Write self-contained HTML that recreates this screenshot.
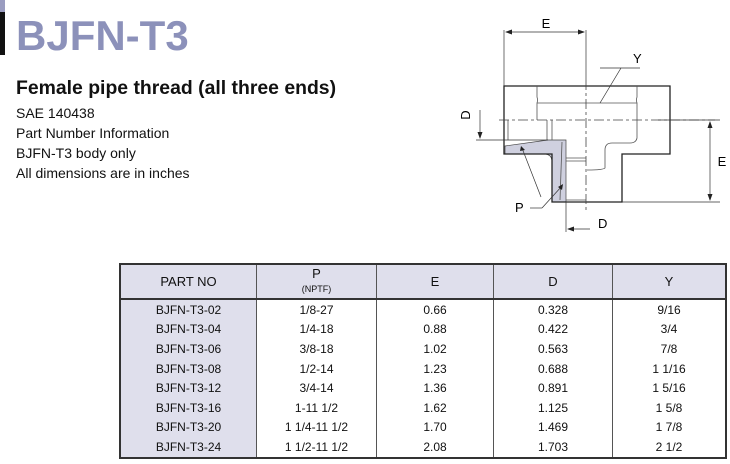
<!DOCTYPE html>
<html><head><meta charset="utf-8"><style>
body{margin:0;width:730px;height:464px;background:#fff;position:relative;overflow:hidden;font-family:"Liberation Sans",Arial,sans-serif;color:#111}
.bar{position:absolute;left:0;top:12px;width:5px;height:43px;background:#111}
.bar2{position:absolute;left:0;top:0;width:5px;height:12px;background:#9a9cc0}
h1{position:absolute;left:16px;top:11px;margin:0;font-size:42px;font-weight:bold;color:#8c91ba;line-height:50px}
h2{position:absolute;left:16px;top:77px;margin:0;font-size:19.4px;font-weight:bold;line-height:22px}
.l{position:absolute;left:16px;font-size:14px;line-height:16px}
table{position:absolute;left:119px;top:263px;width:608px;border-collapse:collapse;font-size:12px;border:2px solid #333}
td{border-left:1px solid #555;text-align:center;height:19.6px;padding:0}
tr.h td{background:#dfdfec;height:33px;font-size:13px;border-bottom:2px solid #333;line-height:14px}
td.p{background:#dfdfec}
</style></head><body>
<div class="bar2"></div><div class="bar"></div>
<h1>BJFN-T3</h1>
<h2>Female pipe thread (all three ends)</h2>
<div class="l" style="top:105px">SAE 140438</div>
<div class="l" style="top:125px">Part Number Information</div>
<div class="l" style="top:145px">BJFN-T3 body only</div>
<div class="l" style="top:165px">All dimensions are in inches</div>
<svg style="position:absolute;left:0;top:0" width="730" height="464" font-family="Liberation Sans, Arial, sans-serif" font-size="13">
<path d="M505 146 L548 140 H566 V202 H552 V162 Q552 154 544 154 H505 Z" fill="#cfd0df" stroke="#444" stroke-width="0.7"/>
<g fill="none" stroke="#222" stroke-width="1.3">
<path d="M504 86 H670 V154 H622 V202 H552 V154 H504 Z"/>
</g>
<g fill="none" stroke="#555" stroke-width="0.8">
<path d="M537 86 V97 Q538 100 537 103 V120 M637 86 V97 Q636 100 637 103 V138 Q636 143 630 143 H612 Q605 143 605 150 V168 Q603 170 588 170 H587"/>
<path d="M537 103 H637 M508 120 V140 M547 120 V140 M552 120 V140 M566 158 H586 M566 161 H586 M566 200 H586 M562 142 L560 200"/>
</g>
<g stroke="#444" stroke-width="0.8" stroke-dasharray="10,3,3,3" fill="none">
<line x1="499" y1="120" x2="715" y2="120"/>
<line x1="586" y1="80" x2="586" y2="210"/>
</g>
<g stroke="#333" stroke-width="0.7" fill="none">
<line x1="504" y1="30" x2="504" y2="86"/><line x1="586" y1="30" x2="586" y2="80"/>
<line x1="506" y1="32" x2="584" y2="32"/>
<line x1="658" y1="120" x2="720" y2="120"/><line x1="622" y1="202" x2="720" y2="202"/>
<line x1="710" y1="122" x2="710" y2="200"/>
<line x1="476" y1="140" x2="548" y2="140"/><line x1="480" y1="110" x2="480" y2="138"/>
<line x1="566" y1="202" x2="566" y2="232"/><line x1="568" y1="229" x2="590" y2="229"/>
<line x1="600" y1="68" x2="640" y2="68"/>
<line x1="621" y1="68" x2="600" y2="103"/>
<line x1="530" y1="208" x2="542" y2="208"/><line x1="542" y1="208" x2="562" y2="186"/><line x1="541" y1="197" x2="522" y2="148"/>
</g>
<g fill="#222">
<path d="M505 32 l7 -2.5 v5z M585 32 l-7 -2.5 v5z M710 121 l-2.5 7 h5z M710 201 l-2.5 -7 h5z M480 139 l-2.5 -7 h5z M567 229 l7 -2.5 v5z M563 184 l-1 6 l-4 -3z M521 146 l4 4 l-5 1z"/>
</g>
<text x="546" y="28" text-anchor="middle">E</text>
<text x="633" y="63">Y</text>
<text x="722" y="166" text-anchor="middle">E</text>
<text x="598" y="228">D</text>
<text x="515" y="212">P</text>
<text x="470" y="115" transform="rotate(-90 470 115)" text-anchor="middle">D</text>
</svg>
<table>
<tr class="h"><td class="p" style="width:135px;border-left:none">PART NO</td><td style="width:119px">P<br><span style="font-size:9px">(NPTF)</span></td><td style="width:116px">E</td><td style="width:118px">D</td><td>Y</td></tr>
<tr><td class="p" style="border-left:none">BJFN-T3-02</td><td>1/8-27</td><td>0.66</td><td>0.328</td><td>9/16</td></tr>
<tr><td class="p" style="border-left:none">BJFN-T3-04</td><td>1/4-18</td><td>0.88</td><td>0.422</td><td>3/4</td></tr>
<tr><td class="p" style="border-left:none">BJFN-T3-06</td><td>3/8-18</td><td>1.02</td><td>0.563</td><td>7/8</td></tr>
<tr><td class="p" style="border-left:none">BJFN-T3-08</td><td>1/2-14</td><td>1.23</td><td>0.688</td><td>1 1/16</td></tr>
<tr><td class="p" style="border-left:none">BJFN-T3-12</td><td>3/4-14</td><td>1.36</td><td>0.891</td><td>1 5/16</td></tr>
<tr><td class="p" style="border-left:none">BJFN-T3-16</td><td>1-11 1/2</td><td>1.62</td><td>1.125</td><td>1 5/8</td></tr>
<tr><td class="p" style="border-left:none">BJFN-T3-20</td><td>1 1/4-11 1/2</td><td>1.70</td><td>1.469</td><td>1 7/8</td></tr>
<tr><td class="p" style="border-left:none">BJFN-T3-24</td><td>1 1/2-11 1/2</td><td>2.08</td><td>1.703</td><td>2 1/2</td></tr>
</table>
</body></html>
